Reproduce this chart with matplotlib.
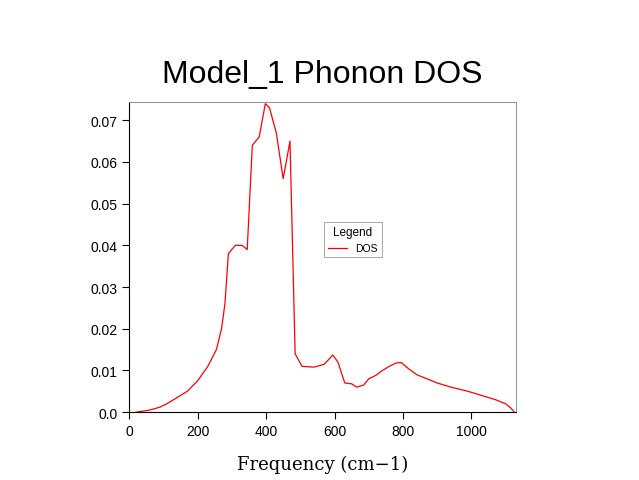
import matplotlib
matplotlib.use("Agg")
import matplotlib.pyplot as plt

# phonon DOS
freq = [20, 60, 90, 110, 140, 170, 200, 230, 255, 270, 280, 290, 310, 330, 345, 360, 380,
        398, 410, 430, 450, 470, 485, 505, 540, 570, 595, 610, 630, 650, 665, 685, 700,
        720, 740, 760, 780, 795, 815, 840, 870, 900, 940, 990, 1030, 1070, 1100, 1115, 1125]
dos = [0.0, 0.0005, 0.0012, 0.002, 0.0035, 0.005, 0.0075, 0.011, 0.015, 0.020, 0.026, 0.038,
       0.040, 0.040, 0.039, 0.064, 0.066, 0.074, 0.073, 0.067, 0.056, 0.065, 0.014, 0.011,
       0.0108, 0.0115, 0.0137, 0.012, 0.007, 0.0068, 0.006, 0.0065, 0.008, 0.0088, 0.010,
       0.011, 0.0118, 0.0119, 0.0105, 0.009, 0.008, 0.007, 0.006, 0.005, 0.004, 0.003,
       0.002, 0.001, 0.0]

plt.rcParams['font.family'] = ['Liberation Sans', 'DejaVu Sans']

fig = plt.figure(figsize=(6.39, 4.81), dpi=100)
ax = fig.add_axes([0.202, 0.141, 0.606, 0.645])
ax.plot(freq, dos, color='red', lw=0.9, label='DOS')
ax.set_xlim(0, 1131)
ax.set_ylim(0, 0.0744)
ax.set_xticks([0, 200, 400, 600, 800, 1000])
ax.set_yticks([0.0, 0.01, 0.02, 0.03, 0.04, 0.05, 0.06, 0.07])
ax.set_yticklabels(['0.0', '0.01', '0.02', '0.03', '0.04', '0.05', '0.06', '0.07'])
ax.tick_params(direction='out', labelsize=10, length=5)
for s in ['top', 'right']:
    ax.spines[s].set_color('gray')
    ax.spines[s].set_linewidth(0.6)
ax.set_xlabel('Frequency (cm\u22121)', family='DejaVu Serif', fontsize=13, labelpad=12)
fig.text(0.505, 0.845, 'Model_1 Phonon DOS', ha='center', va='center', fontsize=23)
leg = ax.legend(title='Legend', loc='upper left', bbox_to_anchor=(0.49, 0.63),
                fontsize=7.5, title_fontsize=8.5, fancybox=False, edgecolor='gray',
                handlelength=1.8)
leg.get_frame().set_linewidth(0.6)
fig.savefig('out.png', dpi=100)
